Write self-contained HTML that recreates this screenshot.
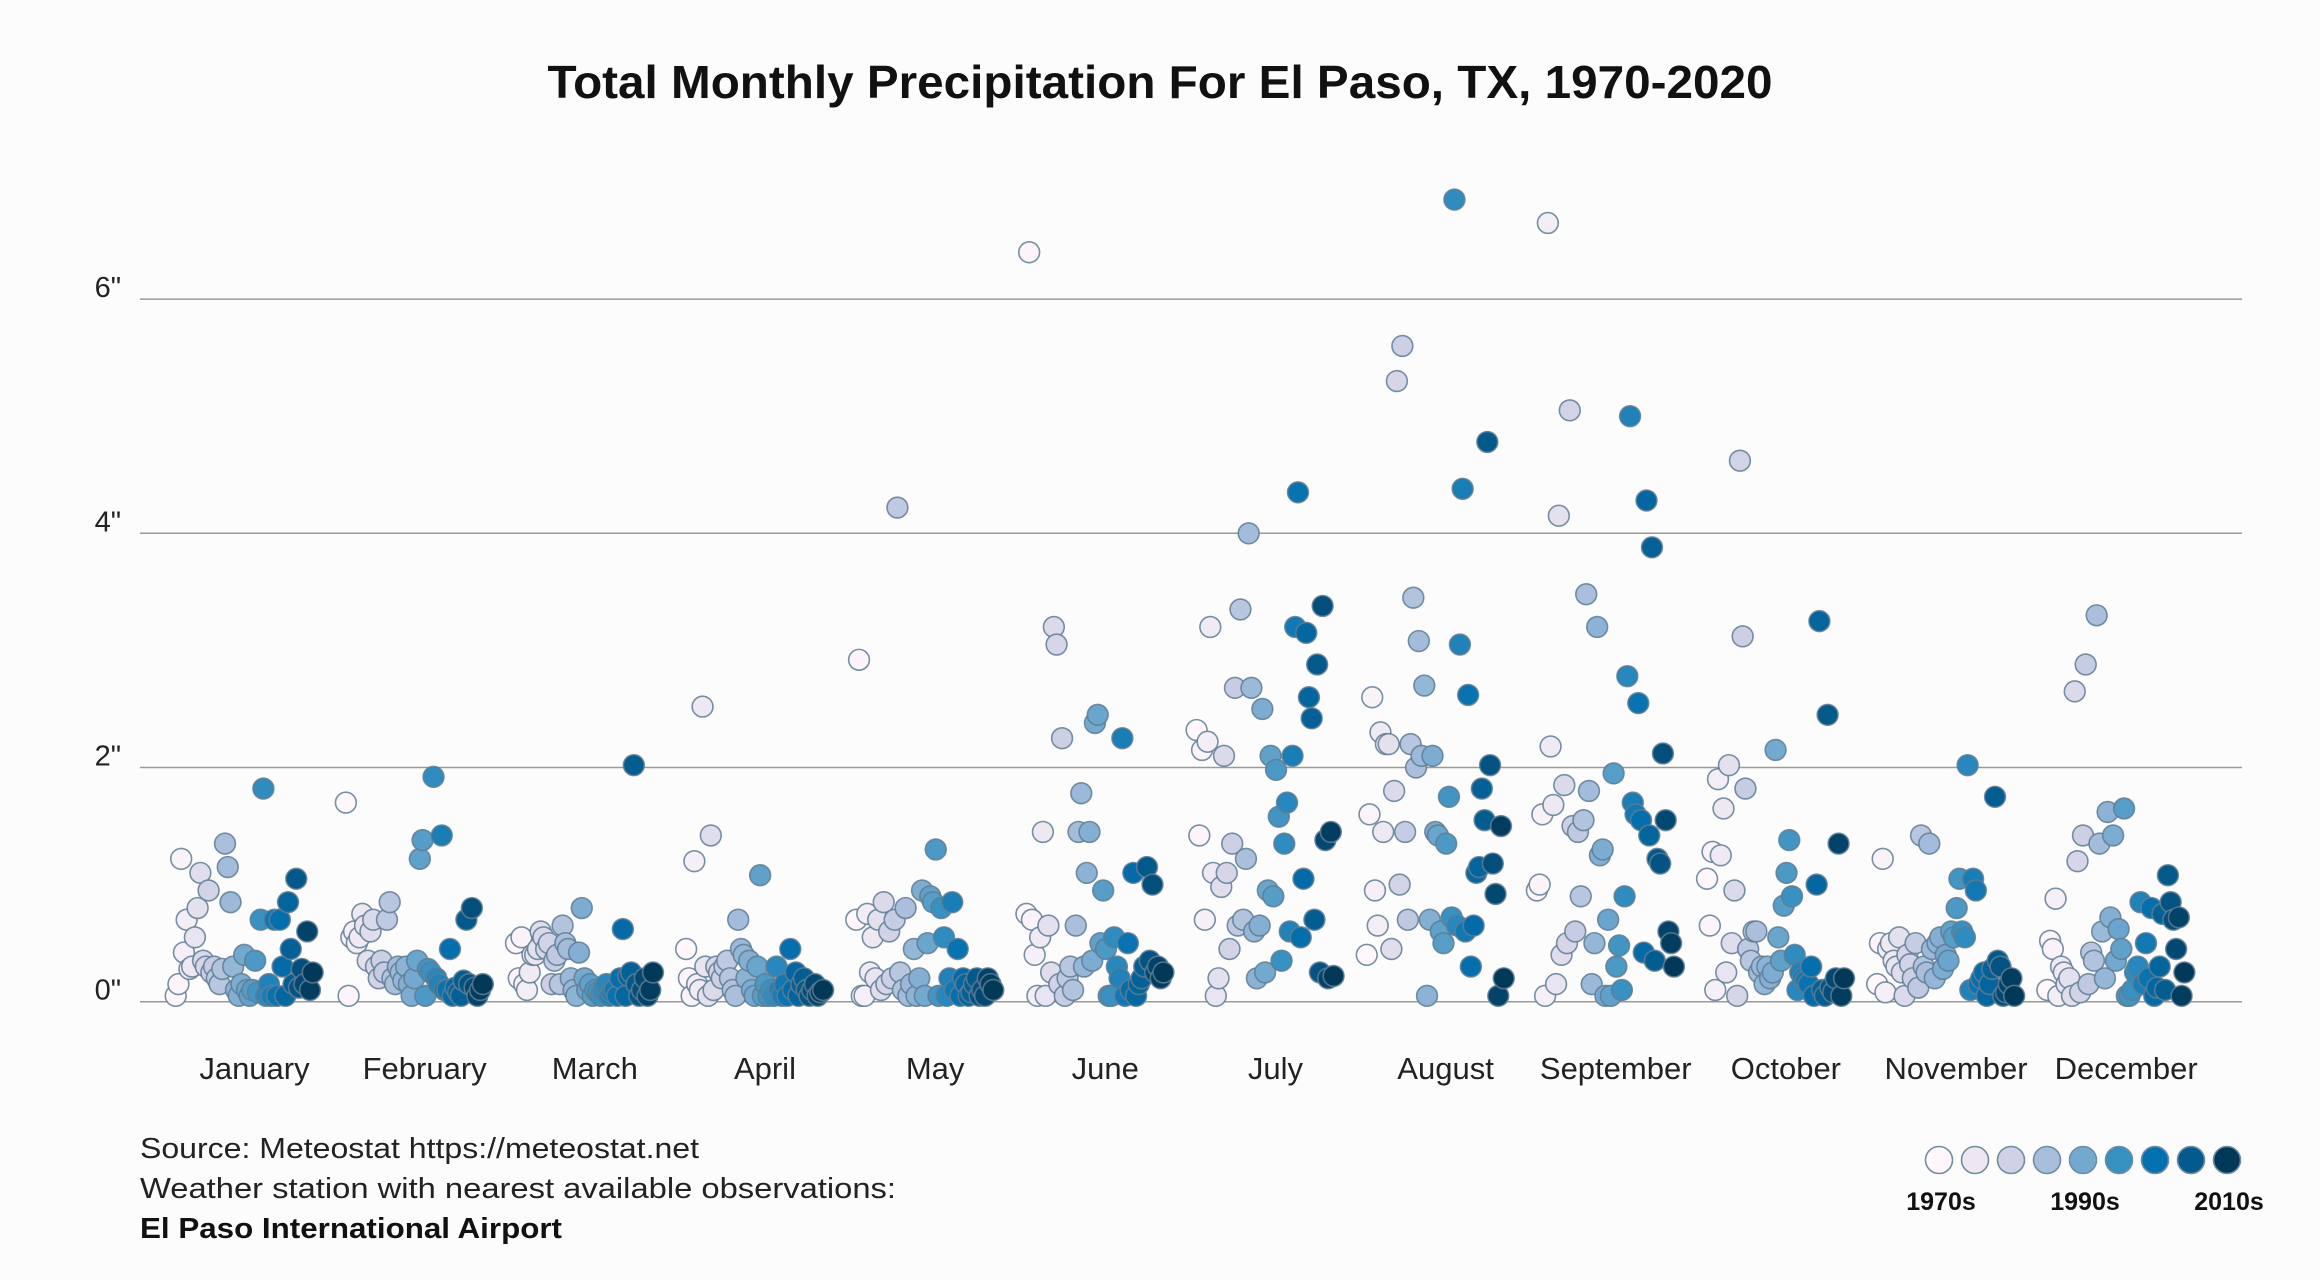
<!DOCTYPE html>
<html><head><meta charset="utf-8">
<style>
html,body{margin:0;padding:0;background:#fdfcfd;}
svg{display:block;font-family:"Liberation Sans",sans-serif;}
</style></head>
<body>
<svg id="chart" width="2320" height="1280" viewBox="0 0 2320 1280">
<rect width="2320" height="1280" fill="#fdfcfd"/>
<text x="1160" y="98" text-anchor="middle" font-size="46" font-weight="bold" fill="#111" textLength="1225" lengthAdjust="spacingAndGlyphs">Total Monthly Precipitation For El Paso, TX, 1970-2020</text>
<g id="grid"></g>
<g id="ylabels"></g>
<g id="xlabels"></g>
<g id="points"></g>
<text x="140" y="1158" font-size="29" fill="#222" textLength="559" lengthAdjust="spacingAndGlyphs">Source: Meteostat https://meteostat.net</text>
<text x="140" y="1198" font-size="29" fill="#222" textLength="756" lengthAdjust="spacingAndGlyphs">Weather station with nearest available observations:</text>
<text x="140" y="1238" font-size="29" font-weight="bold" fill="#111" textLength="422" lengthAdjust="spacingAndGlyphs">El Paso International Airport</text>
<g id="legend"></g>
</svg>
<script>
const months = ["January","February","March","April","May","June","July","August","September","October","November","December"];
const yTicks = [0,2,4,6];
const yTickLabels = ['0"','2"','4"','6"'];
const legendLabels = ["1970s","1990s","2010s"];
const palette = ["#fff7fb","#ece7f2","#d0d1e6","#a6bddb","#74a9cf","#3690c0","#0570b0","#045a8d","#023858"];
const janVals = [0.05,0.15,1.22,0.42,0.7,0.28,0.3,0.55,0.8,1.1,0.35,0.3,0.95,0.25,0.3,0.2,0.15,0.28,1.35,1.15,0.85,0.3,0.1,0.05,0.15,0.4,0.1,0.05,0.1,0.35,0.08,0.7,1.82,0.05,0.15,0.05,0.7,0.05,0.7,0.3,0.05,0.85,0.45,0.15,1.05,0.12,0.28,0.15,0.6,0.1,0.25];
const febVals = [1.7,0.05,0.55,0.6,0.5,0.55,0.75,0.65,0.35,0.6,0.7,0.3,0.2,0.35,0.25,0.7,0.85,0.2,0.15,0.3,0.25,0.18,0.3,0.15,0.05,0.2,0.35,1.22,1.38,0.05,0.28,0.25,1.92,0.2,0.15,1.42,0.1,0.1,0.45,0.05,0.12,0.08,0.05,0.18,0.7,0.15,0.8,0.12,0.05,0.1,0.15];
const marVals = [0.5,0.2,0.55,0.15,0.1,0.25,0.4,0.4,0.45,0.6,0.55,0.45,0.5,0.15,0.35,0.4,0.15,0.65,0.5,0.45,0.2,0.1,0.05,0.42,0.8,0.2,0.1,0.15,0.05,0.1,0.08,0.05,0.1,0.15,0.05,0.08,0.1,0.05,0.2,0.62,0.05,0.22,0.25,2.02,0.15,0.05,0.1,0.2,0.05,0.1,0.25];
const aprVals = [0.45,0.2,0.05,1.2,0.15,0.1,2.52,0.3,0.05,1.42,0.1,0.3,0.25,0.2,0.3,0.35,0.2,0.1,0.05,0.7,0.45,0.4,0.2,0.35,0.1,0.05,0.3,1.08,0.05,0.15,0.05,0.1,0.05,0.3,0.1,0.05,0.15,0.05,0.45,0.1,0.25,0.05,0.15,0.2,0.1,0.05,0.1,0.15,0.05,0.08,0.1];
const mayVals = [0.7,2.92,0.05,0.05,0.75,0.25,0.55,0.2,0.7,0.1,0.85,0.15,0.6,0.2,0.7,4.22,0.25,0.1,0.8,0.05,0.15,0.45,0.05,0.2,0.95,0.05,0.5,0.9,0.85,1.3,0.05,0.8,0.55,0.05,0.2,0.85,0.1,0.45,0.05,0.2,0.15,0.05,0.08,0.15,0.2,0.05,0.1,0.05,0.2,0.15,0.1];
const junVals = [0.75,6.4,0.7,0.4,0.05,0.55,1.45,0.05,0.65,0.25,3.2,3.05,0.15,2.25,0.05,0.2,0.3,0.1,0.65,1.45,1.78,0.3,1.1,1.45,0.35,2.38,2.45,0.5,0.95,0.45,0.05,0.05,0.55,0.3,0.2,2.25,0.05,0.5,0.1,1.1,0.05,0.15,0.2,0.3,1.15,0.35,1.0,0.25,0.3,0.2,0.25];
const julVals = [2.32,1.42,2.15,0.7,2.22,3.2,1.1,0.05,0.2,0.98,2.1,1.1,0.45,1.35,2.68,0.65,3.35,0.7,1.22,4.0,2.68,0.6,0.2,0.65,2.5,0.25,0.95,2.1,0.9,1.98,1.58,0.35,1.35,1.7,0.6,2.1,3.2,4.35,0.55,1.05,3.15,2.6,2.42,0.7,2.88,0.25,3.38,1.38,0.2,1.45,0.22];
const augVals = [0.4,1.6,2.6,0.95,0.65,2.3,1.45,2.2,2.2,0.45,1.8,5.3,1.0,5.6,1.45,0.7,2.2,3.45,2.0,3.08,2.1,2.7,0.05,0.7,2.1,1.45,1.42,0.6,0.5,1.35,1.75,0.72,6.85,0.65,3.05,4.38,0.6,2.62,0.3,0.65,1.1,1.15,1.82,1.55,4.78,2.02,1.18,0.92,0.05,1.5,0.2];
const sepVals = [0.95,1.0,1.6,0.05,6.65,2.18,1.68,0.15,4.15,0.4,1.85,0.5,5.05,1.5,0.6,1.45,0.9,1.55,3.48,1.8,0.15,0.5,3.2,1.25,1.3,0.05,0.7,0.05,1.95,0.3,0.48,0.1,0.9,2.78,5.0,1.7,1.6,2.55,1.55,0.42,4.28,1.42,3.88,0.35,1.22,1.18,2.12,1.55,0.6,0.5,0.3];
const octVals = [1.05,0.65,1.28,0.1,1.9,1.25,1.65,0.25,2.02,0.5,0.95,0.05,4.62,3.12,1.82,0.45,0.35,0.6,0.6,0.25,0.3,0.15,0.3,0.2,0.25,2.15,0.55,0.35,0.82,1.1,1.38,0.9,0.4,0.1,0.25,0.2,0.18,0.15,0.3,0.05,1.0,3.25,0.1,0.05,2.45,0.12,0.08,0.2,1.35,0.05,0.2];
const novVals = [0.15,0.5,1.22,0.08,0.45,0.5,0.35,0.3,0.55,0.25,0.05,0.4,0.32,0.2,0.5,0.12,1.42,0.3,0.25,1.35,0.45,0.2,0.5,0.55,0.28,0.4,0.35,0.6,0.55,0.8,1.05,0.6,0.55,2.02,0.1,1.05,0.95,0.15,0.2,0.25,0.05,0.15,0.28,1.75,0.35,0.3,0.05,0.08,0.15,0.2,0.05];
const decVals = [0.1,0.52,0.45,0.88,0.05,0.3,0.25,0.15,0.2,0.05,2.65,1.2,0.08,1.42,2.88,0.15,0.42,0.35,3.3,1.35,0.6,0.2,1.62,0.72,1.42,0.35,0.62,0.45,1.65,0.05,0.05,0.1,0.25,0.3,0.85,0.15,0.5,0.2,0.8,0.05,0.12,0.3,0.75,0.1,1.08,0.85,0.7,0.45,0.72,0.05,0.25];
const monthVals = [janVals,febVals,marVals,aprVals,mayVals,junVals,julVals,augVals,sepVals,octVals,novVals,decVals];

const NS = "http://www.w3.org/2000/svg";
const plotLeft = 140, plotRight = 2242, y0 = 1001.7, pxPerInch = 117.1;
function yScale(v){ return y0 - v * pxPerInch; }
function bandStart(i){ return 165.7 + 170.15 * i; }
function xScale(m, idx, n){ return bandStart(m) + 10 + idx * (137 / Math.max(1, n - 1)); }
function labelX(m){ return (172 + 115 * m) * 1.4796; }
function hex2rgb(h){ return [1,3,5].map(k => parseInt(h.substr(k,2),16)); }
function colorFor(t){
  const p = t * (palette.length - 1);
  const i = Math.min(palette.length - 2, Math.floor(p));
  const f = p - i;
  const a = hex2rgb(palette[i]), b = hex2rgb(palette[i+1]);
  return "rgb(" + a.map((c,k) => Math.round(c + (b[k]-c)*f)).join(",") + ")";
}
function mk(tag, attrs, parent){
  const el = document.createElementNS(NS, tag);
  for (const k in attrs) el.setAttribute(k, attrs[k]);
  parent.appendChild(el);
  return el;
}
const grid = document.getElementById("grid");
const ylabels = document.getElementById("ylabels");
yTicks.forEach((t, i) => {
  const ln = mk("line", {x1: plotLeft, x2: plotRight, y1: yScale(t), y2: yScale(t), stroke: "#9a9a9a", "stroke-width": 1.5}, grid);
  
  
  const tx = mk("text", {x: 121, y: yScale(t) - 2, "text-anchor": "end", "font-size": 29, fill: "#222"}, ylabels);
  tx.textContent = yTickLabels[i];
  
  
});
const xlabels = document.getElementById("xlabels");
months.forEach((m, i) => {
  const tx = mk("text", {x: labelX(i), y: 1079, "text-anchor": "middle", "font-size": 31, fill: "#222"}, xlabels);
  tx.textContent = m;
  
  
});
const pts = document.getElementById("points");
monthVals.forEach((vals, m) => {
  vals.forEach((v, idx) => {
    const t = idx / Math.max(1, vals.length - 1);
    const c = mk("circle", {cx: xScale(m, idx, vals.length), cy: yScale(v), r: 10.4, fill: colorFor(t), stroke: "#5f7d93", "stroke-width": 1.6, "stroke-opacity": 0.85}, pts);
    
    
  });
});
const legend = document.getElementById("legend");
palette.forEach((col, i) => {
  const c = mk("circle", {cx: 1939 + 36 * i, cy: 1160, r: 13.5, fill: col, stroke: "#6f8ca0", "stroke-width": 1.6}, legend);
  
  
});
legendLabels.forEach((l, i) => {
  const tx = mk("text", {x: 1941 + 144 * i, y: 1210, "text-anchor": "middle", "font-size": 25, "font-weight": "bold", fill: "#111"}, legend);
  tx.textContent = l;
  
  
});
</script>
</body></html>
